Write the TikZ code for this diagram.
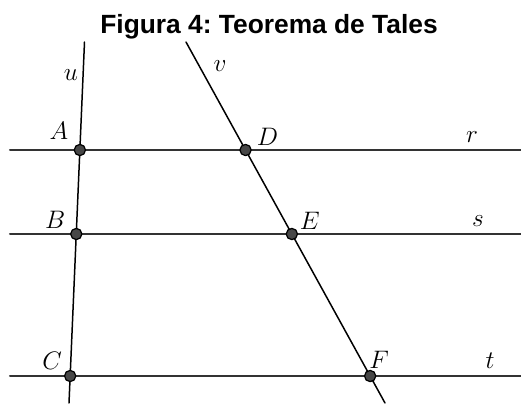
\documentclass[tikz,border=0pt]{standalone}
\usepackage{fontspec}
\newfontfamily\titlefont{Liberation Sans}
\frenchspacing

\begin{document}
\begin{tikzpicture}[x=0.02cm,y=-0.02cm,line cap=round,line join=round,
  parallel/.style={line width=1.15pt,black!80},
  transversal/.style={line width=0.85pt,black},
  pt/.style={circle,draw=black,fill=black!72,line width=0.7pt,inner sep=0pt,minimum size=0.225cm},
  lbl/.style={inner sep=0pt,font=\fontsize{13.5}{15}\selectfont},
  titlestyle/.style={anchor=base,inner sep=0pt,font=\titlefont\bfseries\fontsize{15}{18}\selectfont}]
\useasboundingbox (0,0) rectangle (521,403);
\node[titlestyle] (title) at (269,33) {Figura 4: Teorema de Tales};
% parallel lines r, s, t
\coordinate (rL) at (10,150);
\coordinate (rR) at (521,150);
\coordinate (sL) at (10,234);
\coordinate (sR) at (521,234);
\coordinate (tL) at (10,376);
\coordinate (tR) at (521,376);
% transversals u, v
\coordinate (uT) at (84.5,42);
\coordinate (uB) at (69,403);
\coordinate (vT) at (186,42);
\coordinate (vB) at (385,403);
\draw[parallel] (rL) -- (rR);
\draw[parallel] (sL) -- (sR);
\draw[parallel] (tL) -- (tR);
\draw[transversal] (uT) -- (uB);
\draw[transversal] (vT) -- (vB);
% intersection points
\node[pt] (A) at (intersection of uT--uB and rL--rR) {};
\node[pt] (B) at (intersection of uT--uB and sL--sR) {};
\node[pt] (C) at (intersection of uT--uB and tL--tR) {};
\node[pt] (D) at (intersection of vT--vB and rL--rR) {};
\node[pt] (E) at (intersection of vT--vB and sL--sR) {};
\node[pt] (F) at (intersection of vT--vB and tL--tR) {};
\node[lbl] (Alab) at ([shift={(-21,-19)}]A.center) {$A$};
\node[lbl] (Blab) at ([shift={(-21,-14)}]B.center) {$B$};
\node[lbl] (Clab) at ([shift={(-18,-15)}]C.center) {$C$};
\node[lbl] (Dlab) at ([shift={(22,-13)}]D.center) {$D$};
\node[lbl] (Elab) at ([shift={(18,-13)}]E.center) {$E$};
\node[lbl] (Flab) at ([shift={(9,-16)}]F.center) {$F$};
% line names
\node[lbl] (rlab) at (472,137) {$r$};
\node[lbl] (slab) at (478,221) {$s$};
\node[lbl] (tlab) at (490,361) {$t$};
\node[lbl] (ulab) at (71,75) {$u$};
\node[lbl] (vlab) at (220,66) {$v$};
\end{tikzpicture}
\end{document}
